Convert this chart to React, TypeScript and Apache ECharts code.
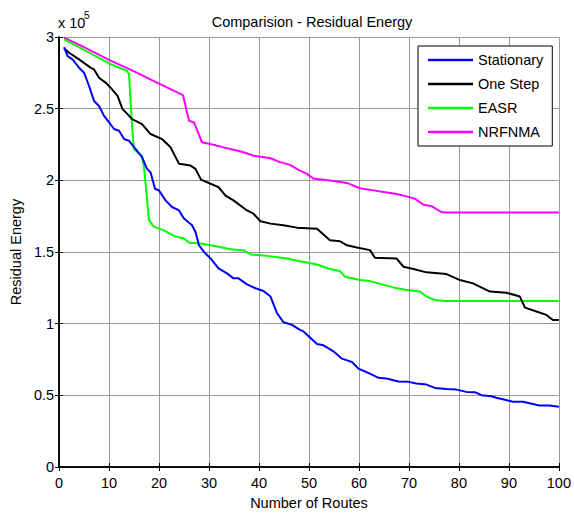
import React, { useEffect, useRef } from "react";
import * as echarts from "echarts";

const FONT = "Arial, 'Liberation Sans', sans-serif";

const seriesNames = ["Stationary", "One Step", "EASR", "NRFNMA"];
const seriesColors = ["#0000ff", "#000000", "#00ff00", "#ff00ff"];

const xTicks = { min: 0, max: 100, interval: 10 };
const yTicks = { min: 0, max: 3, interval: 0.5 };

// values in units of 1e5
const stationary: [number, number][] = [
  [1, 2.93], [1.7, 2.867], [2.7, 2.844], [4, 2.786], [5, 2.751], [6, 2.658], [7, 2.554], [8, 2.519],
  [9, 2.45], [10, 2.404], [11, 2.358], [12, 2.346], [13, 2.288], [14, 2.276], [15.3, 2.219],
  [16.6, 2.161], [17.6, 2.08], [18.3, 2.057], [19.2, 1.941], [20, 1.929], [21.3, 1.86], [22.6, 1.814],
  [24, 1.79], [25, 1.733], [26.6, 1.686], [27.3, 1.64], [28, 1.547], [29, 1.501], [30.3, 1.455],
  [31.9, 1.385], [33.6, 1.351], [34.9, 1.316], [35.9, 1.316], [37.6, 1.274], [39.3, 1.247],
  [40.9, 1.228], [42.3, 1.189], [43.6, 1.073], [44.9, 1.01], [46.6, 0.992], [48.2, 0.957],
  [48.9, 0.946], [50.2, 0.904], [51.6, 0.858], [52.9, 0.849], [54.9, 0.807], [56.6, 0.756],
  [58.6, 0.733], [59.9, 0.686], [61.9, 0.656], [63.9, 0.622], [65.5, 0.617], [67.9, 0.597],
  [69.9, 0.594], [71.5, 0.582], [73.5, 0.575], [75.2, 0.552], [77.5, 0.545], [79.5, 0.54],
  [81.5, 0.524], [83.2, 0.522], [84.5, 0.501], [86.5, 0.494], [87.5, 0.483], [90.8, 0.455],
  [92.8, 0.455], [96.1, 0.429], [98.1, 0.429], [100, 0.42],
];

const oneStep: [number, number][] = [
  [1, 2.92], [2, 2.89], [4, 2.844], [6.3, 2.786], [7, 2.774], [8, 2.716], [9.3, 2.682], [10.3, 2.647],
  [11.7, 2.589], [12.7, 2.497], [13.7, 2.462], [14.6, 2.427], [16.6, 2.392], [18.3, 2.323],
  [20.6, 2.288], [22.3, 2.231], [24, 2.115], [26.3, 2.103], [27.3, 2.08], [28.4, 2.005],
  [30.3, 1.976], [31.9, 1.953], [33.3, 1.894], [34.9, 1.86], [37.6, 1.79], [38.9, 1.767],
  [40.3, 1.714], [42.3, 1.698], [44.9, 1.686], [47.6, 1.67], [51.6, 1.663], [54.2, 1.582],
  [56.2, 1.575], [57.6, 1.547], [59.6, 1.531], [62.2, 1.513], [63.2, 1.46], [67.5, 1.455],
  [68.9, 1.397], [70.9, 1.381], [73.5, 1.358], [77.5, 1.346], [80.2, 1.304], [82.8, 1.281],
  [86.2, 1.224], [89.5, 1.216], [92.2, 1.189], [93.2, 1.112], [95.5, 1.085], [97.5, 1.061],
  [98.8, 1.026], [100, 1.026],
];

const easr: [number, number][] = [
  [1, 2.983], [5, 2.91], [10.3, 2.81], [13.65, 2.763], [14, 2.74], [14.6, 2.38], [15, 2.215],
  [16.6, 2.172], [17, 2.09], [18, 1.721], [19, 1.675], [21, 1.651], [23, 1.612], [25, 1.594],
  [26, 1.564], [28.3, 1.559], [30.9, 1.543], [34.3, 1.519], [36.9, 1.513], [38.3, 1.483],
  [41.6, 1.473], [45.6, 1.455], [48.2, 1.436], [51.6, 1.413], [54.2, 1.381], [56.2, 1.367],
  [57.2, 1.328], [60.2, 1.304], [62.2, 1.297], [66.9, 1.253], [69.5, 1.235], [72.2, 1.224],
  [73.5, 1.189], [75.2, 1.165], [77.2, 1.158], [100, 1.158],
];

const nrfnma: [number, number][] = [
  [1, 2.995], [5, 2.93], [10.3, 2.835], [15, 2.76], [20, 2.675], [24.8, 2.594], [26, 2.415],
  [27, 2.404], [28.6, 2.265], [31.3, 2.245], [32.9, 2.23], [34.9, 2.214], [36.9, 2.196],
  [38.9, 2.172], [42.3, 2.154], [44.2, 2.127], [46.2, 2.108], [48.2, 2.068], [49.6, 2.045],
  [50.9, 2.012], [54.2, 1.999], [57.6, 1.982], [60.2, 1.945], [62.9, 1.93], [65, 1.918],
  [67.5, 1.905], [69.5, 1.888], [71.2, 1.872], [72.9, 1.83], [74.5, 1.82], [76.5, 1.779],
  [77.2, 1.775], [100, 1.775],
];

const seriesData = [stationary, oneStep, easr, nrfnma];

export default function App() {
  const ref = useRef<HTMLDivElement>(null);
  useEffect(() => {
    if (!ref.current) return;
    const chart = echarts.init(ref.current, undefined, { renderer: "svg" });
    const axisLine = { show: true, lineStyle: { color: "#000", width: 1.5 } };
    const tick = { show: true, inside: true, length: 4, lineStyle: { color: "#000", width: 1 } };
    const label = { color: "#000", fontSize: 14.5, fontFamily: FONT };
    const grid = { show: true, lineStyle: { color: "#999", width: 1 } };
    chart.setOption({
      animation: false,
      backgroundColor: "#fff",
      title: {
        text: "Comparision - Residual Energy",
        left: 307,
        top: 9,
        textAlign: "center",
        textStyle: { color: "#000", fontSize: 14.5, fontWeight: "normal", fontFamily: FONT },
      },
      grid: { left: 58, right: 14, top: 37, bottom: 45, containLabel: false },
      legend: {
        orient: "vertical",
        left: 418,
        top: 46,
        backgroundColor: "#fff",
        borderColor: "#000",
        borderWidth: 1,
        borderRadius: 0,
        padding: [6, 9, 6, 10],
        itemGap: 8,
        itemWidth: 45,
        itemHeight: 2.5,
        icon: "rect",
        textStyle: { color: "#000", fontSize: 14.5, fontFamily: FONT, lineHeight: 16, height: 16 },
        data: seriesNames,
      },
      graphic: [
        { type: "text", x: 58, y: 23, style: { text: "x 10", fontSize: 14.5, fontFamily: FONT, fill: "#000", verticalAlign: "middle" } },
        { type: "text", x: 84, y: 15, style: { text: "5", fontSize: 10, fontFamily: FONT, fill: "#000", verticalAlign: "middle" } },
      ],
      xAxis: [
        {
          type: "value", ...xTicks, position: "bottom",
          name: "Number of Routes", nameLocation: "middle", nameGap: 28,
          nameTextStyle: { color: "#000", fontSize: 14.5, fontFamily: FONT },
          axisLine, axisTick: tick, axisLabel: { ...label, margin: 8 }, splitLine: grid,
        },
        {
          type: "value", ...xTicks, position: "top",
          axisLine, axisTick: tick, axisLabel: { show: false }, splitLine: { show: false },
        },
      ],
      yAxis: [
        {
          type: "value", ...yTicks, position: "left",
          name: "Residual Energy", nameLocation: "middle", nameGap: 34, nameRotate: 90,
          nameTextStyle: { color: "#000", fontSize: 14.5, fontFamily: FONT },
          axisLine, axisTick: tick, axisLabel: { ...label, margin: 5 }, splitLine: grid,
        },
        {
          type: "value", ...yTicks, position: "right",
          axisLine, axisTick: tick, axisLabel: { show: false }, splitLine: { show: false },
        },
      ],
      series: seriesNames.map((name, i) => ({
        name,
        type: "line",
        xAxisIndex: 0,
        yAxisIndex: 0,
        data: seriesData[i],
        symbol: "none",
        showSymbol: false,
        color: seriesColors[i],
        itemStyle: { color: seriesColors[i] },
        lineStyle: { color: seriesColors[i], width: 2 },
        z: 3 + (3 - i),
      })),
    });
    return () => chart.dispose();
  }, []);
  return (
    <div
      ref={ref}
      style={{ position: "fixed", left: 0, top: 0, width: 574, height: 515, background: "#fff" }}
    />
  );
}
